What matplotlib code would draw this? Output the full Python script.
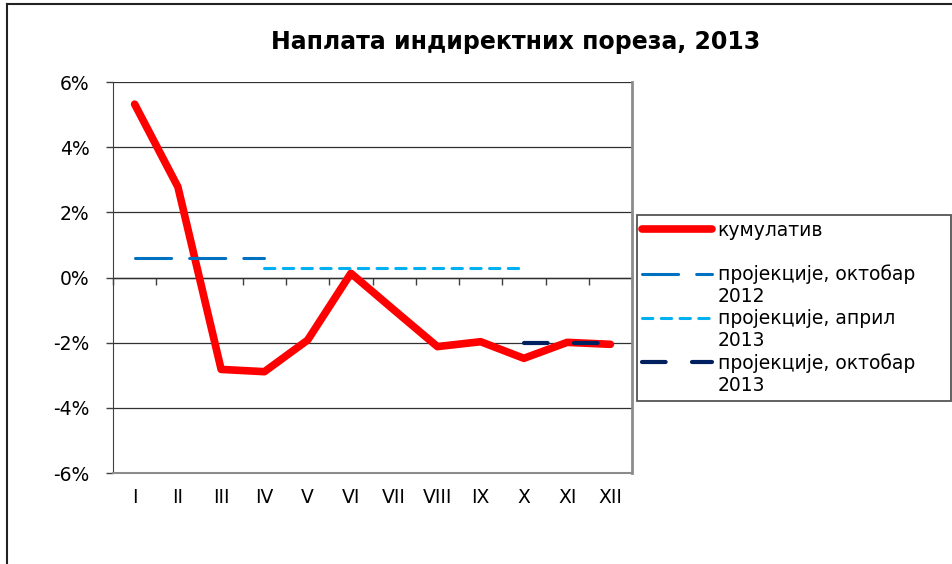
import numpy as np
import matplotlib.pyplot as plt
from matplotlib.lines import Line2D

plt.rcParams['font.family'] = ['DejaVu Sans']
plt.rcParams['lines.scale_dashes'] = False

months = ['I', 'II', 'III', 'IV', 'V', 'VI', 'VII', 'VIII', 'IX', 'X', 'XI', 'XII']
kumulativ = [5.32, 2.78, -2.82, -2.89, -1.92, 0.13, -1.0, -2.12, -1.97, -2.48, -1.99, -2.05]
proj_okt2012 = [0.6, 0.6, 0.6, 0.6] + [np.nan] * 8
proj_apr2013 = [np.nan] * 3 + [0.3] * 7 + [np.nan] * 2
proj_okt2013 = [np.nan] * 9 + [-2.0] * 3
yticks = [-6, -4, -2, 0, 2, 4, 6]

x = np.arange(len(months))

fig = plt.figure(figsize=(9.53, 5.64), dpi=100)
ax = fig.add_axes([0.1186, 0.1613, 0.5446, 0.6933])

l1, = ax.plot(x, kumulativ, color='#ff0000', lw=5.5, solid_capstyle='round',
              solid_joinstyle='round', label='кумулатив', zorder=3)
l2, = ax.plot(x, proj_okt2012, color='#0070c0', lw=2.2, dashes=(26, 13),
              dash_capstyle='round', label='пројекције, октобар', zorder=4)
l3, = ax.plot(x, proj_apr2013, color='#00b0f0', lw=2.2, dashes=(7.5, 6),
              dash_capstyle='round', label='пројекције, април', zorder=4)
l4, = ax.plot(x, proj_okt2013, color='#002060', lw=3, dashes=(17, 19),
              dash_capstyle='round', label='пројекције, октобар', zorder=4)

ax.set_xlim(-0.5, 11.5)
ax.set_ylim(-6, 6)
ax.set_yticks(yticks)
ax.set_yticklabels([f'{v}%' for v in yticks])
ax.set_xticks(x)
ax.set_xticklabels(months)
ax.tick_params(axis='y', length=5, width=1, color='#404040', pad=12, labelsize=13.5)
ax.tick_params(axis='x', length=0, pad=11, labelsize=13.5)
ax.yaxis.grid(True, color='#303030', lw=0.9)
ax.set_axisbelow(True)

ax.spines['top'].set_visible(False)
ax.spines['left'].set_color('#404040')
ax.spines['right'].set_color('#8c8c8c')
ax.spines['right'].set_linewidth(2)
ax.spines['bottom'].set_color('#8c8c8c')
ax.spines['bottom'].set_linewidth(1.5)

# horizontal axis crossing at 0% with category boundary ticks
sec = ax.secondary_xaxis(0.5)
sec.set_xticks(np.arange(-0.5, 12, 1))
sec.set_xticklabels([])
sec.tick_params(axis='x', direction='in', length=5, width=1, color='#404040',
                labeltop=False, labelbottom=False)
for s in sec.spines.values():
    s.set_color('#404040')
    s.set_linewidth(1)

fig.text(0.541, 0.9255, 'Наплата индиректних пореза, 2013', ha='center', va='center',
         fontsize=17, fontweight='bold')

# legend rows (second label lines as separate rows)
blank = Line2D([], [], alpha=0)
handles = [l1, blank, l2, blank, l3, blank, l4, blank]
labels = ['кумулатив', ' ', 'пројекције, октобар', '2012',
          'пројекције, април', '2013', 'пројекције, октобар', '2013']
leg = fig.legend(handles, labels, loc='upper left',
                 bbox_to_anchor=(0.668, 0.3032, 0.3295, 0.3156),
                 bbox_transform=fig.transFigure, borderaxespad=0,
                 fontsize=13.5, handlelength=3.7, handletextpad=0.32,
                 labelspacing=0.16, borderpad=0.3, fancybox=False,
                 edgecolor='#555555', framealpha=1, mode='expand')
leg.get_frame().set_linewidth(1.3)

# outer chart frame
fig.add_artist(Line2D([0.0073, 1.0], [0.993, 0.993], color='#222222', lw=1.5,
                      transform=fig.transFigure))
fig.add_artist(Line2D([0.0073, 0.0073], [0.0, 0.993], color='#222222', lw=1.5,
                      transform=fig.transFigure))

fig.savefig('out.png', dpi=100)
